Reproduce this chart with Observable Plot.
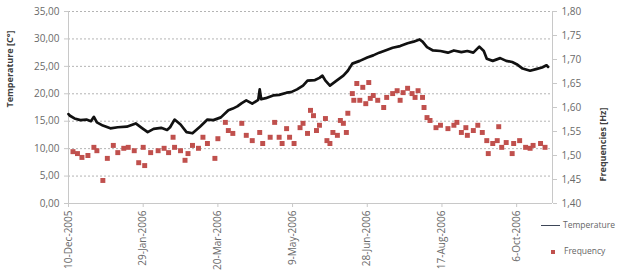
<!DOCTYPE html>
<html><head><meta charset="utf-8">
<script src="https://cdn.jsdelivr.net/npm/d3@7"></script>
<script src="https://cdn.jsdelivr.net/npm/@observablehq/plot@0.6"></script>
<style>
body{margin:0;background:#fff;}
#wrap{position:relative;width:620px;height:276px;font-family:"Open Sans",sans-serif;overflow:hidden;}
#wrap svg{position:absolute;left:0;top:0;}
#legend{position:absolute;left:541px;top:218px;font-size:8.5px;color:#666;}
#legend .row{position:relative;height:26px;line-height:14px;white-space:nowrap;}
#legend .ln{display:inline-block;width:19px;height:0;border-top:1.2px solid #3d4658;vertical-align:middle;margin-right:3px;}
#legend .sq{display:inline-block;width:4px;height:4px;background:#c0504d;vertical-align:middle;margin:0 9px 0 10px;}
</style></head><body><div id="wrap"></div>
<script>
const tempDates = ["2005-12-10","2005-12-11","2005-12-14","2005-12-18","2005-12-22","2005-12-25","2005-12-27","2005-12-29","2006-01-02","2006-01-07","2006-01-12","2006-01-18","2006-01-24","2006-01-28","2006-02-01","2006-02-05","2006-02-10","2006-02-14","2006-02-16","2006-02-19","2006-02-23","2006-02-27","2006-03-03","2006-03-08","2006-03-13","2006-03-17","2006-03-22","2006-03-27","2006-03-30","2006-04-02","2006-04-05","2006-04-08","2006-04-12","2006-04-16","2006-04-17","2006-04-18","2006-04-21","2006-04-26","2006-04-30","2006-05-05","2006-05-08","2006-05-12","2006-05-16","2006-05-19","2006-05-24","2006-05-27","2006-05-29","2006-05-31","2006-06-03","2006-06-07","2006-06-12","2006-06-15","2006-06-18","2006-06-23","2006-06-28","2006-07-02","2006-07-06","2006-07-11","2006-07-15","2006-07-20","2006-07-25","2006-07-29","2006-08-02","2006-08-04","2006-08-07","2006-08-11","2006-08-16","2006-08-21","2006-08-25","2006-08-30","2006-09-03","2006-09-07","2006-09-11","2006-09-14","2006-09-16","2006-09-20","2006-09-25","2006-09-29","2006-10-03","2006-10-06","2006-10-10","2006-10-15","2006-10-19","2006-10-23","2006-10-26","2006-10-27"];
const tempValues = [16.3,16.0,15.5,15.2,15.3,15.0,15.8,14.8,14.2,13.7,13.9,14.0,14.6,13.8,13.0,13.6,13.8,13.4,13.9,15.3,14.4,13.0,12.8,14.0,15.3,15.2,15.7,17.0,17.3,17.7,18.3,18.8,18.2,18.9,20.8,19.0,19.2,19.7,19.8,20.2,20.3,20.8,21.5,22.4,22.5,22.9,23.3,22.4,21.5,22.3,23.3,24.2,25.5,26.0,26.6,27.0,27.5,28.0,28.4,28.7,29.2,29.5,29.9,29.5,28.5,27.9,27.8,27.5,27.9,27.6,27.8,27.5,28.6,27.8,26.4,26.0,26.5,26.0,25.8,25.4,24.6,24.2,24.5,24.8,25.2,24.9];

const freqDates = ["2005-12-13","2005-12-16","2005-12-19","2005-12-23","2005-12-27","2005-12-29","2006-01-02","2006-01-05","2006-01-09","2006-01-12","2006-01-16","2006-01-19","2006-01-23","2006-01-26","2006-01-29","2006-01-30","2006-02-03","2006-02-08","2006-02-12","2006-02-15","2006-02-18","2006-02-19","2006-02-23","2006-02-26","2006-02-28","2006-03-03","2006-03-07","2006-03-10","2006-03-13","2006-03-18","2006-03-20","2006-03-25","2006-03-27","2006-03-30","2006-04-05","2006-04-08","2006-04-12","2006-04-17","2006-04-19","2006-04-24","2006-04-27","2006-04-30","2006-05-02","2006-05-05","2006-05-07","2006-05-10","2006-05-14","2006-05-16","2006-05-19","2006-05-21","2006-05-23","2006-05-25","2006-05-27","2006-05-31","2006-06-01","2006-06-03","2006-06-05","2006-06-08","2006-06-10","2006-06-12","2006-06-14","2006-06-15","2006-06-18","2006-06-19","2006-06-21","2006-06-23","2006-06-25","2006-06-27","2006-06-29","2006-06-30","2006-07-02","2006-07-05","2006-07-09","2006-07-11","2006-07-15","2006-07-18","2006-07-20","2006-07-22","2006-07-25","2006-07-28","2006-07-30","2006-08-01","2006-08-04","2006-08-05","2006-08-07","2006-08-09","2006-08-13","2006-08-16","2006-08-21","2006-08-25","2006-08-27","2006-08-30","2006-09-02","2006-09-03","2006-09-07","2006-09-10","2006-09-13","2006-09-16","2006-09-17","2006-09-20","2006-09-23","2006-09-24","2006-09-26","2006-09-29","2006-10-03","2006-10-04","2006-10-08","2006-10-12","2006-10-15","2006-10-17","2006-10-22","2006-10-25"];
const freqValues = [1.508,1.504,1.496,1.500,1.517,1.510,1.448,1.494,1.521,1.506,1.515,1.517,1.510,1.485,1.517,1.479,1.506,1.510,1.515,1.506,1.538,1.517,1.510,1.490,1.504,1.521,1.515,1.538,1.525,1.494,1.535,1.569,1.552,1.546,1.567,1.542,1.531,1.548,1.525,1.538,1.569,1.538,1.525,1.556,1.538,1.525,1.558,1.567,1.546,1.594,1.583,1.552,1.563,1.577,1.531,1.525,1.548,1.542,1.573,1.567,1.548,1.588,1.629,1.615,1.650,1.615,1.642,1.608,1.652,1.619,1.625,1.615,1.600,1.621,1.629,1.635,1.615,1.631,1.640,1.629,1.621,1.635,1.621,1.600,1.579,1.573,1.558,1.563,1.556,1.563,1.569,1.548,1.558,1.542,1.552,1.563,1.548,1.531,1.504,1.525,1.531,1.560,1.517,1.527,1.504,1.525,1.531,1.517,1.515,1.521,1.525,1.517];

const leftTicks = [0,5,10,15,20,25,30,35];
const rightTicks = [1.40,1.45,1.50,1.55,1.60,1.65,1.70,1.75,1.80];
const xTickDates = ["2005-12-10","2006-01-29","2006-03-20","2006-05-09","2006-06-28","2006-08-17","2006-10-06"];
const xDomain = ["2005-12-10","2006-10-30"];
const monthNames = ["Jan","Feb","Mar","Apr","May","Jun","Jul","Aug","Sep","Oct","Nov","Dec"];
const seriesNames = ["Temperature","Frequency"];
const axisTitles = ["Temperature [C°]","Frequencies [Hz]"];

const fMin = 1.40, fMax = 1.80, tMin = 0, tMax = 35;
const fToT = f => tMin + (f - fMin) / (fMax - fMin) * (tMax - tMin);
const tToF = t => fMin + (t - tMin) / (tMax - tMin) * (fMax - fMin);
const fmt2 = v => v.toFixed(2).replace(".", ",");
const fmtDate = d => `${d.getUTCDate()}-${monthNames[d.getUTCMonth()]}-${d.getUTCFullYear()}`;

const tempData = tempDates.map((d, i) => ({date: new Date(d), value: tempValues[i]}));
const freqData = freqDates.map((d, i) => ({date: new Date(d), value: freqValues[i]}));
const dom = xDomain.map(d => new Date(d));

const axisColor = "#c8c8c8";
const textColor = "#6a6a6a";

const chart = Plot.plot({
  width: 620, height: 276,
  marginLeft: 68, marginRight: 68, marginTop: 11, marginBottom: 73,
  style: {fontFamily: "'Open Sans', sans-serif", fontSize: "10px", color: textColor, background: "transparent"},
  x: {type: "utc", domain: dom},
  y: {domain: [tMin, tMax]},
  marks: [
    Plot.gridY(leftTicks.filter(d => d > tMin), {stroke: "#b4b4b4", strokeOpacity: 1, strokeDasharray: "2,2", strokeWidth: 1}),
    Plot.ruleY([tMin], {stroke: axisColor}),
    Plot.ruleX([dom[0]], {stroke: axisColor}),
    Plot.ruleX([dom[1]], {stroke: axisColor}),
    Plot.axisY(leftTicks, {anchor: "left", tickSize: 4, tickPadding: 5, tickFormat: fmt2, stroke: axisColor, fill: textColor, label: null}),
    Plot.axisY(rightTicks.map(fToT), {anchor: "right", tickSize: 4, tickPadding: 5, tickFormat: v => fmt2(tToF(v)), stroke: axisColor, fill: textColor, label: null}),
    Plot.axisX(xTickDates.map(d => new Date(d)), {anchor: "bottom", tickSize: 4, tickPadding: 3, tickRotate: -90, tickFormat: fmtDate, stroke: axisColor, fill: textColor, label: null}),
    Plot.text([axisTitles[0]], {frameAnchor: "left", rotate: -90, dx: -58, text: d => d, fontWeight: "bold", fontSize: 9, fill: "#404040"}),
    Plot.text([axisTitles[1]], {frameAnchor: "right", rotate: -90, dx: 51, text: d => d, fontWeight: "bold", fontSize: 9, fill: "#404040"}),
    Plot.line(tempData, {x: "date", y: "value", stroke: "#111", strokeWidth: 2.7, strokeLinejoin: "round"}),
    Plot.dot(freqData, {x: "date", y: d => fToT(d.value), symbol: "square", r: 2.8, fill: "#c0504d", stroke: "none"})
  ]
});

const wrap = document.getElementById("wrap");
wrap.appendChild(chart);
const legend = document.createElement("div");
legend.id = "legend";
legend.innerHTML = `<div class="row"><span class="ln"></span>${seriesNames[0]}</div><div class="row"><span class="sq"></span>${seriesNames[1]}</div>`;
wrap.appendChild(legend);
</script></body></html>
